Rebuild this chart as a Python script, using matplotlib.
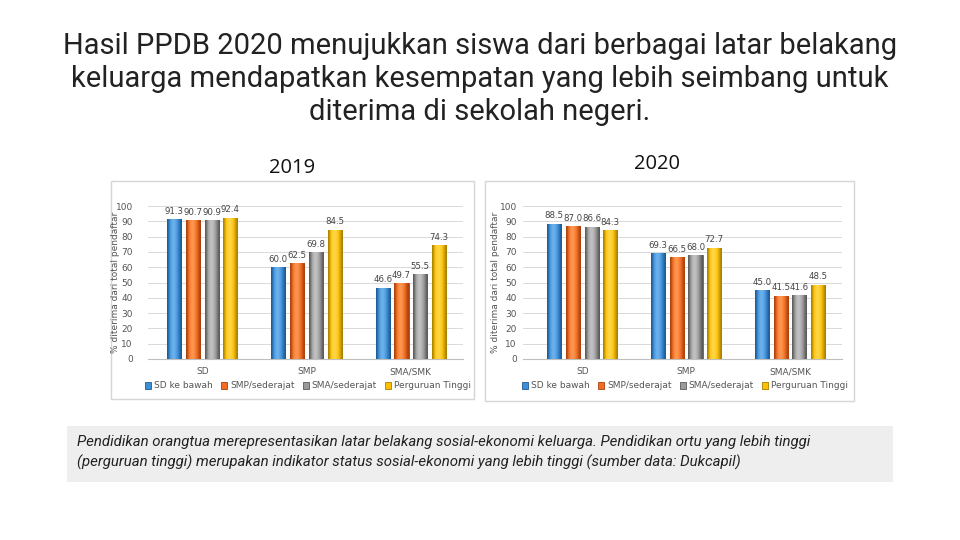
import numpy as np
import matplotlib.pyplot as plt
from matplotlib.patches import Rectangle
from matplotlib.colors import LinearSegmentedColormap

# data
categories = ['SD', 'SMP', 'SMA/SMK']
series = ['SD ke bawah', 'SMP/sederajat', 'SMA/sederajat', 'Perguruan Tinggi']
vals_2019 = [[91.3, 60.0, 46.6],
             [90.7, 62.5, 49.7],
             [90.9, 69.8, 55.5],
             [92.4, 84.5, 74.3]]
vals_2020 = [[88.5, 69.3, 45.0],
             [87.0, 66.5, 41.5],
             [86.6, 68.0, 41.6],
             [84.3, 72.7, 48.5]]
colors = ['#3d8fd6', '#f26c21', '#9a9a9a', '#ffc000']
darks = ['#1d5a94', '#a9420c', '#5a5a5a', '#a87f00']
lights = ['#6fb4ee', '#ff9a55', '#c4c4c4', '#ffd84d']

title = ('Hasil PPDB 2020 menujukkan siswa dari berbagai latar belakang\n'
         'keluarga mendapatkan kesempatan yang lebih seimbang untuk\n'
         'diterima di sekolah negeri.')
note = ('Pendidikan orangtua merepresentasikan latar belakang sosial-ekonomi keluarga. '
        'Pendidikan ortu yang lebih tinggi\n(perguruan tinggi) merupakan indikator '
        'status sosial-ekonomi yang lebih tinggi (sumber data: Dukcapil)')

W, H = 960, 540
fig = plt.figure(figsize=(9.6, 5.4), dpi=100)


def fx(px):
    return px / W


def fy(py):
    return 1 - py / H


fig.text(0.5, fy(79), title, ha='center', va='center', fontsize=21,
         family='Roboto', color='#222222', linespacing=1.24)


def panel(box, axbox, xlo, year, yearx, yeary, vals, legx, ypad, ylx):
    x0, y0, x1, y1 = box
    fig.patches.append(Rectangle((fx(x0), fy(y1)), fx(x1 - x0), (y1 - y0) / H,
                                 transform=fig.transFigure, facecolor='white',
                                 edgecolor='#d6d6d6', lw=1, zorder=-5))
    fig.text(fx(yearx), fy(yeary), year, ha='center', va='center', fontsize=14.5,
             family='Open Sans', color='#111111')
    l, r, t, b = axbox
    ax = fig.add_axes([fx(l), fy(b), fx(r - l), (b - t) / H], zorder=2)
    ax.patch.set_alpha(0)
    x = np.arange(len(categories))
    width = 0.135
    step = 0.18
    grad = np.array([[0.0, 0.55, 0.85, 1.0, 0.85, 0.6, 0.3, 0.0]])
    for i, s in enumerate(series):
        pos = x + (i - 1.5) * step
        cmap = LinearSegmentedColormap.from_list('c%d' % i,
                                                 [darks[i], colors[i], lights[i]])
        bars = ax.bar(pos, vals[i], width, color=colors[i], edgecolor=darks[i],
                      linewidth=0.6, label=s, zorder=3)
        for bar in bars:
            bx, bw, bh = bar.get_x(), bar.get_width(), bar.get_height()
            im = ax.imshow(grad, cmap=cmap, vmin=0, vmax=1, aspect='auto',
                           extent=(bx, bx + bw, 0, bh), zorder=3.5,
                           interpolation='bicubic')
            im.set_clip_path(bar)
        for p, v in zip(pos, vals[i]):
            ax.text(p, v + 2.2, '%.1f' % v, ha='center', va='bottom',
                    fontsize=6.2, color='#444444', zorder=4)
    ax.set_ylim(0, 100)
    ax.set_xlim(xlo, 2.5)
    ax.set_yticks(range(0, 101, 10))
    ax.tick_params(axis='y', length=0, labelsize=6.5, labelcolor='#555555', pad=ypad)
    ax.set_xticks(x)
    ax.set_xticklabels(categories)
    ax.tick_params(axis='x', length=0, labelsize=6.5, labelcolor='#555555', pad=6)
    ax.grid(axis='y', color='#d9d9d9', lw=0.7, zorder=0)
    for sp in ['top', 'right', 'left']:
        ax.spines[sp].set_visible(False)
    ax.spines['bottom'].set_color('#bfbfbf')
    ax.set_ylabel('% diterima dari total pendaftar', fontsize=6.5, color='#555555')
    ax.yaxis.set_label_coords(fx(ylx), fy(282), transform=fig.transFigure)
    ax.legend(loc='center', bbox_to_anchor=(fx(legx), fy(386)),
              bbox_transform=fig.transFigure, ncol=4, frameon=False,
              fontsize=6.5, handlelength=0.7, handleheight=0.7,
              handletextpad=0.3, columnspacing=0.9, labelcolor='#555555')
    return ax


panel((111, 181, 474, 399), (148, 463, 206, 359), -0.52, '2019', 292, 168,
      vals_2019, 308, 11, 120)
panel((485, 181, 854, 401), (523, 842, 206, 359), -0.57, '2020', 657, 164,
      vals_2020, 685, 4.5, 500)

# note box
fig.patches.append(Rectangle((fx(67), fy(482)), fx(893 - 67), (482 - 426) / H,
                             transform=fig.transFigure, facecolor='#eeeeee',
                             edgecolor='none', zorder=-5))
fig.text(fx(77), fy(452.5), note, ha='left', va='center', fontsize=10.8,
         family='Roboto', style='italic', color='#222222', linespacing=1.55)

fig.savefig('out.png', dpi=100)
